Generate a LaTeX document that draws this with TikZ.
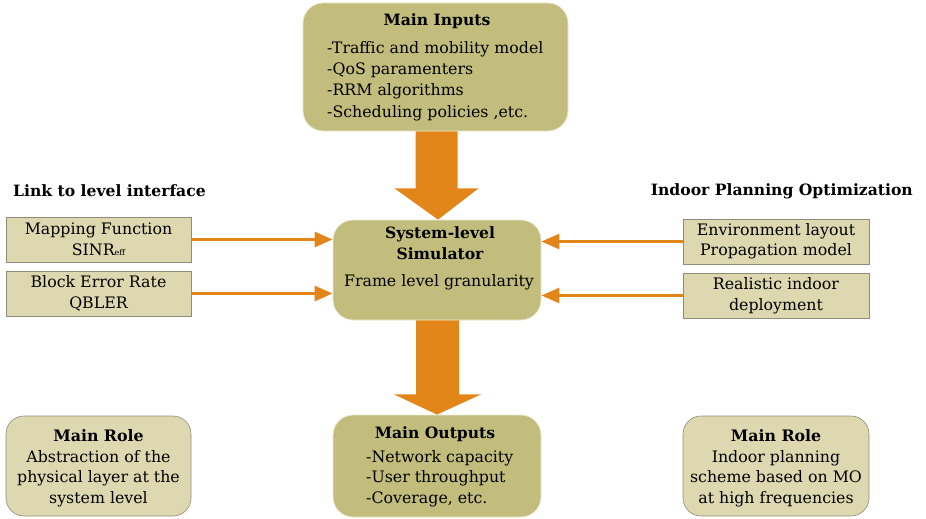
\documentclass[tikz,border=0pt]{standalone}
\usepackage{fontspec}
\setmainfont{DejaVu Serif}
\usetikzlibrary{calc,arrows.meta}
\definecolor{khaki}{HTML}{C2BD7D}
\definecolor{lightkhaki}{HTML}{DDD8B0}
\definecolor{boxedge}{HTML}{8E8C78}
\definecolor{arrorange}{HTML}{E3861A}
\tikzset{
  bigbox/.style={draw=lightkhaki!60!white, line width=0.8pt, fill=khaki, rounded corners=20pt, inner sep=0pt},
  rolebox/.style={draw=boxedge, line width=0.6pt, fill=lightkhaki, rounded corners=18pt, inner sep=0pt},
  smallbox/.style={draw=boxedge, line width=0.6pt, fill=lightkhaki, inner sep=0pt, align=center},
  txt/.style={inner sep=0pt, align=center},
  ltxt/.style={inner sep=0pt, align=left},
  thinarrow/.style={draw=arrorange, line width=3pt, -{Triangle[length=18pt,width=15pt]}},
  fatarrow/.style={fill=arrorange, draw=none},
  bfont/.style={font=\fontsize{15.6}{20.5}\selectfont\bfseries},
}
\begin{document}
\begin{tikzpicture}[x=1pt,y=-1pt,font=\fontsize{15.8}{20.5}\selectfont]
\useasboundingbox (0,0) rectangle (926,519);
% main boxes
\node[bigbox, minimum width=265pt, minimum height=128pt] (inputs) at (435.5,67) {};
\node[bigbox, minimum width=208pt, minimum height=100pt] (sim) at (437,270) {};
\node[bigbox, minimum width=208pt, minimum height=102pt] (outputs) at (437,466) {};
% texts of main boxes
\node[txt, bfont] (inT) at (437,21) {Main Inputs};
\node[ltxt, anchor=north west, font=\fontsize{15.8}{21.3}\selectfont] (inL) at (327,41) {-Traffic and mobility model\\-QoS paramenters\\-RRM algorithms\\-Scheduling policies ,etc.};
\node[txt, bfont] (simT) at (440,243) {System-level\\Simulator};
\node[txt] (simL) at (439,282) {Frame level granularity};
\node[txt, bfont] (outT) at (435,434) {Main Outputs};
\node[ltxt, anchor=north west] (outL) at (366,450) {-Network capacity\\-User throughput\\-Coverage, etc.};
% side boxes
\node[smallbox, minimum width=185pt, minimum height=45pt] (map) at (98.5,239.5) {Mapping Function\\SINR{\fontsize{8}{8}\selectfont eff}};
\node[smallbox, minimum width=185pt, minimum height=45pt] (bler) at (98.5,293.5) {Block Error Rate\\QBLER};
\node[smallbox, minimum width=186pt, minimum height=45pt] (env) at (776,241.5) {Environment layout\\Propagation model};
\node[smallbox, minimum width=186pt, minimum height=45pt] (real) at (776,295.5) {Realistic indoor\\deployment};
% headings
\node[txt, bfont, anchor=west] (hl) at (13,191) {Link to level interface};
\node[txt, bfont, anchor=east] (hr) at (913,191) {Indoor Planning Optimization};
% role boxes
\node[rolebox, minimum width=185pt, minimum height=100pt] (roleL) at (98.5,466) {};
\node[txt] (roleLT) at (98.5,468) {\textbf{Main Role}\\Abstraction of the\\physical layer at the\\system level};
\node[rolebox, minimum width=186pt, minimum height=100pt] (roleR) at (776,466) {};
\node[txt] (roleRT) at (776,468) {\textbf{Main Role}\\Indoor planning\\scheme based on MO\\at high frequencies};
% thin arrows
\draw[thinarrow] (map.east) -- (sim.west |- map.east);
\draw[thinarrow] (bler.east) -- (sim.west |- bler.east);
\draw[thinarrow] (env.west) -- (sim.east |- env.west);
\draw[thinarrow] (real.west) -- (sim.east |- real.west);
% fat arrows
\fill[fatarrow] ($(inputs.south)+(-20,0)$) -- ($(inputs.south)+(22,0)$) -- ($(inputs.south)+(22,57)$) -- ($(inputs.south)+(43,57)$) -- ($(sim.north)+(1,0)$) -- ($(inputs.south)+(-41,57)$) -- ($(inputs.south)+(-20,57)$) -- cycle;
\fill[fatarrow] ($(sim.south)+(-21,0)$) -- ($(sim.south)+(22,0)$) -- ($(sim.south)+(22,74)$) -- ($(sim.south)+(44,74)$) -- (outputs.north) -- ($(sim.south)+(-43,74)$) -- ($(sim.south)+(-21,74)$) -- cycle;
\end{tikzpicture}
\end{document}
